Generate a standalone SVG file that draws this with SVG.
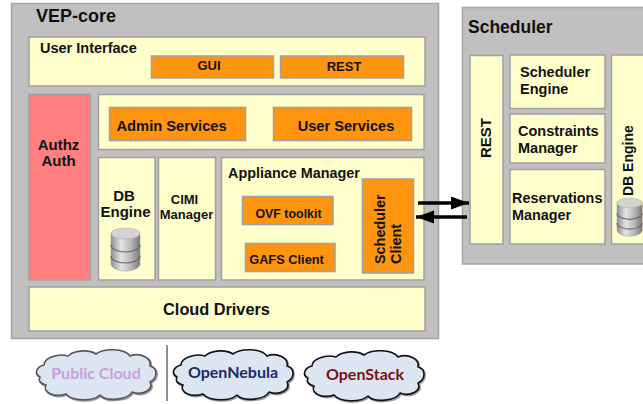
<svg xmlns="http://www.w3.org/2000/svg" xmlns:xlink="http://www.w3.org/1999/xlink" width="643" height="404" viewBox="0 0 643 404">
<style>
text{font-family:"Liberation Sans",Arial,sans-serif;font-weight:bold;fill:#111}
.c{fill:#c0c0c0;stroke:#a3a3a3;stroke-width:1.5}
.y{fill:#ffffcc;stroke:#a0a0a0;stroke-width:1.5}
.o{fill:#ff950e;stroke:#a0a0a0;stroke-width:1.5}
.r{fill:#ff8080;stroke:#a0a0a0;stroke-width:1.5}
.m{text-anchor:middle}
.cl{fill:#dce6f2;stroke:#111;stroke-width:1.6;stroke-linejoin:round}
.sh{fill:none;stroke:#999;stroke-width:2}
.cloudt{font-family:Lato,"Open Sans",sans-serif;font-size:16px;text-anchor:middle}
</style>
<defs>
<linearGradient id="dbg" x1="0" x2="1" y1="0" y2="0"><stop offset="0" stop-color="#8f8f8f"/><stop offset=".35" stop-color="#e4e4e4"/><stop offset=".7" stop-color="#b5b5b5"/><stop offset="1" stop-color="#777"/></linearGradient>
<g id="db">
<path d="M0 5V36C0 40 7 43 14.500 43S29 40 29 36V5Z" fill="url(#dbg)" stroke="#9a9a9a" stroke-width=".6"/>
<path d="M0 17C0 21 7 24 14.500 24S29 21 29 17M0 28C0 32 7 35 14.500 35S29 32 29 28" fill="none" stroke="#666" stroke-width="1.200"/>
<ellipse cx="14.500" cy="5.500" rx="14.500" ry="5.500" fill="#d4d4d4" stroke="#aaa" stroke-width=".6"/>
</g>
<path id="cloud" d="M-56 3C-62 0-60-7-52-9C-52-16-38-21-28-18C-20-25-6-24 0-20C8-26 28-26 34-18C44-22 56-16 54-8C62-6 62 4 54 8C58 16 46 22 36 18C32 26 10 28 4 21C-4 28-24 27-30 20C-42 24-54 18-50 11C-55 10-58 7-56 3Z"/>
<marker id="ah" markerUnits="userSpaceOnUse" markerWidth="19" markerHeight="14" refX="18" refY="6.500" orient="auto"><path d="M0 0L18 6.500L0 13Z" fill="#000"/></marker>
</defs>

<g id="vep-core"><rect class="c" x="11.500" y="3.500" width="427" height="335"/><text x="36" y="22" font-size="18">VEP-core</text></g>
<g id="user-interface"><rect class="y" x="29" y="37" width="396" height="49"/><text x="40" y="53" font-size="14.500">User Interface</text></g>
<g id="gui"><rect class="o" x="151.500" y="56" width="122" height="22"/><text class="m" x="209" y="70" font-size="13">GUI</text></g>
<g id="rest-ui"><rect class="o" x="280.500" y="56" width="123" height="22"/><text class="m" x="344" y="71" font-size="13">REST</text></g>
<g id="authz"><rect class="r" x="29" y="94.500" width="61.500" height="185.500"/><text class="m" x="58.500" y="150" font-size="15">Authz</text><text class="m" x="58.500" y="166" font-size="15">Auth</text></g>
<g id="services"><rect class="y" x="98.500" y="94.500" width="325.500" height="55"/></g>
<g id="admin-services"><rect class="o" x="109.500" y="107.500" width="136" height="33"/><text x="116.500" y="131" font-size="14.700">Admin Services</text></g>
<g id="user-services"><rect class="o" x="273.500" y="107.500" width="138" height="33"/><text class="m" x="346" y="131" font-size="14.600">User Services</text></g>
<g id="db-engine"><rect class="y" x="98.500" y="157.500" width="56.500" height="122.500"/><text class="m" x="124" y="201" font-size="15">DB</text><text class="m" x="125.500" y="217" font-size="15">Engine</text><use xlink:href="#db" href="#db" x="111" y="228"/></g>
<g id="cimi-manager"><rect class="y" x="158.500" y="157.500" width="57" height="122.500"/><text class="m" x="184.500" y="204" font-size="13">CIMI</text><text class="m" x="186.500" y="219" font-size="13">Manager</text></g>
<g id="appliance-manager"><rect class="y" x="221.500" y="157.500" width="202.500" height="122.500"/><text x="228" y="178" font-size="14.400">Appliance Manager</text></g>
<g id="ovf-toolkit"><rect class="o" x="242.500" y="196.500" width="90.500" height="28"/><text class="m" x="288.500" y="218" font-size="12.400">OVF toolkit</text></g>
<g id="gafs-client"><rect class="o" x="245.500" y="243.500" width="89.500" height="28"/><text class="m" x="286.500" y="264" font-size="12.800">GAFS Client</text></g>
<g id="scheduler-client"><rect class="o" x="362.500" y="179" width="51" height="94"/><text transform="translate(385 264) rotate(-90)" font-size="14.400">Scheduler</text><text transform="translate(401 264) rotate(-90)" font-size="14.400">Client</text></g>
<g id="cloud-drivers"><rect class="y" x="29" y="287" width="396" height="44"/><text class="m" x="216.500" y="315" font-size="16.300">Cloud Drivers</text></g>

<g id="scheduler"><rect class="c" x="462.500" y="7.500" width="190" height="256.500"/><text x="468" y="33" font-size="17.500">Scheduler</text></g>
<g id="rest-sched"><rect class="y" x="470" y="55.500" width="33" height="188.500"/><text class="m" transform="translate(490.500 138) rotate(-90)" font-size="15">REST</text></g>
<g id="scheduler-engine"><rect class="y" x="510" y="55" width="95" height="53.500"/><text x="520" y="77" font-size="14.500">Scheduler</text><text x="520" y="94" font-size="14.500">Engine</text></g>
<g id="constraints-manager"><rect class="y" x="510" y="114" width="95" height="49"/><text x="518" y="136" font-size="14.500">Constraints</text><text x="518" y="153" font-size="14.500">Manager</text></g>
<g id="reservations-manager"><rect class="y" x="510" y="169.500" width="95" height="74.500"/><text x="512" y="203" font-size="14.400">Reservations</text><text x="512" y="220" font-size="14.400">Manager</text></g>
<g id="db-engine-sched"><rect class="y" x="611.500" y="55" width="40" height="189"/><text transform="translate(633 196) rotate(-90)" font-size="14">DB Engine</text><use xlink:href="#db" href="#db" transform="translate(617 198) scale(.87 .89)"/></g>

<g id="connectors" stroke="#000" stroke-width="3.500" fill="none">
<path d="M418 203H469" marker-end="url(#ah)"/>
<path d="M467 217H416" marker-end="url(#ah)"/>
</g>

<g id="public-cloud"><use xlink:href="#cloud" href="#cloud" class="sh" x="97" y="375"/><use xlink:href="#cloud" href="#cloud" class="cl" style="stroke:#555" x="96" y="374"/><text class="cloudt" x="96" y="379" style="fill:#c8a0dc">Public Cloud</text></g>
<path id="divider" d="M167 345V401" stroke="#444" stroke-width="1.200"/>
<g id="opennebula"><use xlink:href="#cloud" href="#cloud" class="sh" x="234" y="375"/><use xlink:href="#cloud" href="#cloud" class="cl" x="233" y="374"/><text class="cloudt" x="233" y="378" style="fill:#1a2a6c">OpenNebula</text></g>
<g id="openstack"><use xlink:href="#cloud" href="#cloud" class="sh" x="365" y="376"/><use xlink:href="#cloud" href="#cloud" class="cl" x="364" y="375"/><text class="cloudt" x="365" y="380" style="fill:#7a1010">OpenStack</text></g>
</svg>
